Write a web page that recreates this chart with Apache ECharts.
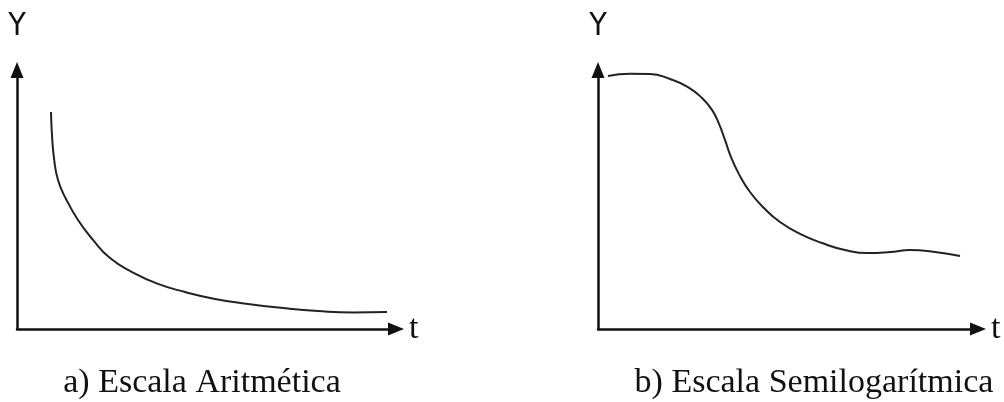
<!DOCTYPE html>
<html>
<head>
<meta charset="utf-8">
<script src="https://cdn.jsdelivr.net/npm/echarts@6/dist/echarts.min.js"></script>
<style>html,body{margin:0;padding:0;background:#fff;}#c{width:1004px;height:402px;}</style>
</head>
<body>
<div id="c"></div>
<script>
// Panel a) arithmetic scale: [t, Y]
const seriesA = [
  [8.97, 83.8], [9.23, 74.9], [9.76, 66.0], [10.82, 57.5], [12.93, 50.2], [16.09, 42.1],
  [20.05, 34.4], [24.54, 27.4], [30.34, 22.0], [37.2, 17.4], [44.33, 14.3], [52.24, 11.6],
  [60.95, 9.65], [70.18, 8.1], [79.42, 6.95], [88.65, 6.37], [97.63, 6.56]
];
// Panel b) semilog scale: [t, Y]
const seriesB = [
  [2.63, 97.7], [8.42, 98.6], [13.68, 98.5], [18.95, 96.5], [23.68, 93.4], [27.37, 89.2],
  [30.0, 84.6], [31.84, 79.2], [33.42, 73.0], [35.0, 66.4], [37.1, 59.8], [40.0, 52.9],
  [43.68, 46.7], [47.89, 41.3], [53.16, 36.7], [58.95, 33.2], [65.0, 30.5], [71.05, 29.3],
  [76.84, 29.7], [82.1, 30.5], [88.68, 29.7], [95.26, 28.2]
];
const captions = ['a) Escala Aritmética', 'b) Escala Semilogarítmica'];
const yName = 'Y';
const xName = 't';

const serif = '"Liberation Serif", "Times New Roman", serif';
const narrow = '"Liberation Sans Narrow", "DejaVu Sans Condensed", sans-serif';

function xAx(i) {
  return {
    type: 'value', gridIndex: i, min: 0, max: 100,
    axisLine: { show: true, symbol: ['none', 'triangle'], symbolSize: [13, 16], lineStyle: { color: '#111', width: 2.5 } },
    axisTick: { show: false }, axisLabel: { show: false }, splitLine: { show: false },
    name: xName, nameLocation: 'end', nameGap: 13,
    nameTextStyle: { fontFamily: serif, fontSize: 34, color: '#111', align: 'left', verticalAlign: 'middle', padding: [8, 0, 0, 0] }
  };
}
function yAx(i) {
  return {
    type: 'value', gridIndex: i, min: 0, max: 100,
    axisLine: { show: true, symbol: ['none', 'triangle'], symbolSize: [13, 16], lineStyle: { color: '#111', width: 2.5 } },
    axisTick: { show: false }, axisLabel: { show: false }, splitLine: { show: false },
    name: yName, nameLocation: 'end', nameGap: 43,
    nameTextStyle: { fontFamily: narrow, fontSize: 32, color: '#111', align: 'center', verticalAlign: 'middle' }
  };
}

const chart = echarts.init(document.getElementById('c'), null, { renderer: 'canvas' });
chart.setOption({
  backgroundColor: '#fff',
  animation: false,
  title: [
    { text: captions[0], left: 202, top: 366, textAlign: 'center', textStyle: { fontFamily: serif, fontSize: 34, fontWeight: 'normal', color: '#111' }, padding: 0 },
    { text: captions[1], left: 814, top: 366, textAlign: 'center', textStyle: { fontFamily: serif, fontSize: 34, fontWeight: 'normal', color: '#111' }, padding: 0 }
  ],
  grid: [
    { left: 17, top: 70, width: 379, height: 259 },
    { left: 598, top: 70, width: 380, height: 259 }
  ],
  xAxis: [xAx(0), xAx(1)],
  yAxis: [yAx(0), yAx(1)],
  series: [
    { type: 'line', xAxisIndex: 0, yAxisIndex: 0, data: seriesA, smooth: 0.5, symbol: 'none', lineStyle: { color: '#222', width: 2 } },
    { type: 'line', xAxisIndex: 1, yAxisIndex: 1, data: seriesB, smooth: 0.5, symbol: 'none', lineStyle: { color: '#222', width: 2 } }
  ]
});
</script>
</body>
</html>
